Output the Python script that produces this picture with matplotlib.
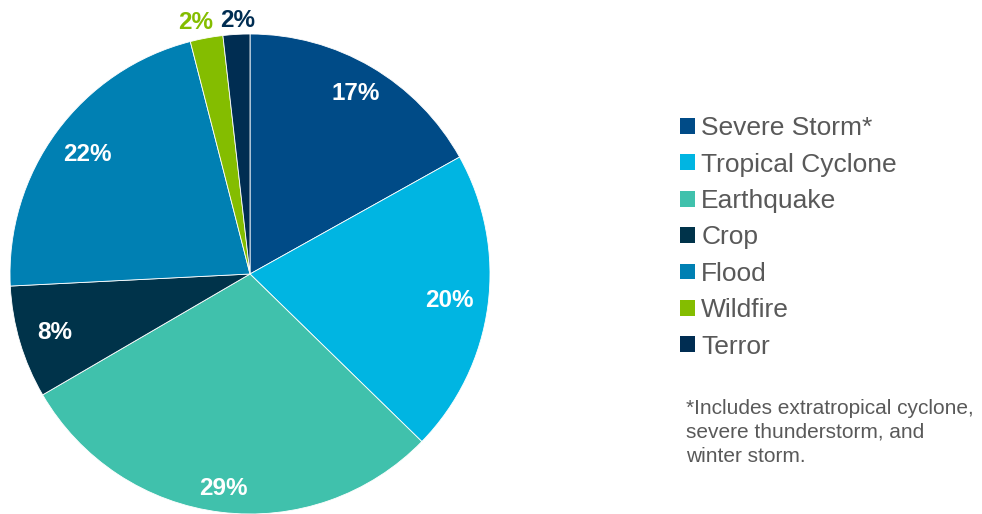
import numpy as np
import matplotlib
matplotlib.use("Agg")
import matplotlib.pyplot as plt

plt.rcParams['font.family'] = ['Liberation Sans', 'DejaVu Sans']

categories = ["Severe Storm*", "Tropical Cyclone", "Earthquake", "Crop",
              "Flood", "Wildfire", "Terror"]
shares = [16.9, 20.4, 29.3, 7.6, 21.8, 2.2, 1.8]
colors = ["#004b87", "#00b5e2", "#40c1ac", "#00334a",
          "#0080b3", "#84bd00", "#002d52"]
footnote = "*Includes extratropical cyclone,\nsevere thunderstorm, and\nwinter storm."

# label placement (radius, x nudge) per slice
label_r = [0.87, 0.84, 0.90, 0.85, 0.84, 1.065, 1.06]
label_dx = [0, 0, 0, 0, 0, -0.035, 0.01]

W, H = 982, 514
fig = plt.figure(figsize=(W / 100, H / 100), dpi=100)
ax = fig.add_axes([10 / W, 0, 480 / W, 480 / H])

wedges, _ = ax.pie(shares, colors=colors, startangle=90, counterclock=False,
                   radius=1.0, wedgeprops=dict(edgecolor="white", linewidth=0.6))
ax.set_xlim(-1, 1)
ax.set_ylim(-1, 1)
ax.set_aspect("equal")
ax.axis("off")

# percentage labels
for w, v, c, r, dx in zip(wedges, shares, colors, label_r, label_dx):
    mid = np.deg2rad((w.theta1 + w.theta2) / 2)
    x, y = r * np.cos(mid) + dx, r * np.sin(mid)
    tc = "white" if v >= 5 else c
    ax.text(x, y, f"{round(v)}%", color=tc, fontsize=17.5, fontweight="bold",
            ha="center", va="center", clip_on=False)

leg = fig.legend(wedges, categories, loc="upper left",
                 bbox_to_anchor=(667 / W, 1 - 103 / H),
                 frameon=False, fontsize=19, handlelength=0.55, handleheight=0.55,
                 handletextpad=0.25, labelspacing=0.47, borderpad=0)
for t in leg.get_texts():
    t.set_color("#595959")
for h in leg.legend_handles:
    h.set_edgecolor("none")

fig.text(686 / W, 1 - 399 / H, footnote, fontsize=15, color="#595959",
         ha="left", va="top", linespacing=1.33)

fig.savefig("out.png", dpi=100)
